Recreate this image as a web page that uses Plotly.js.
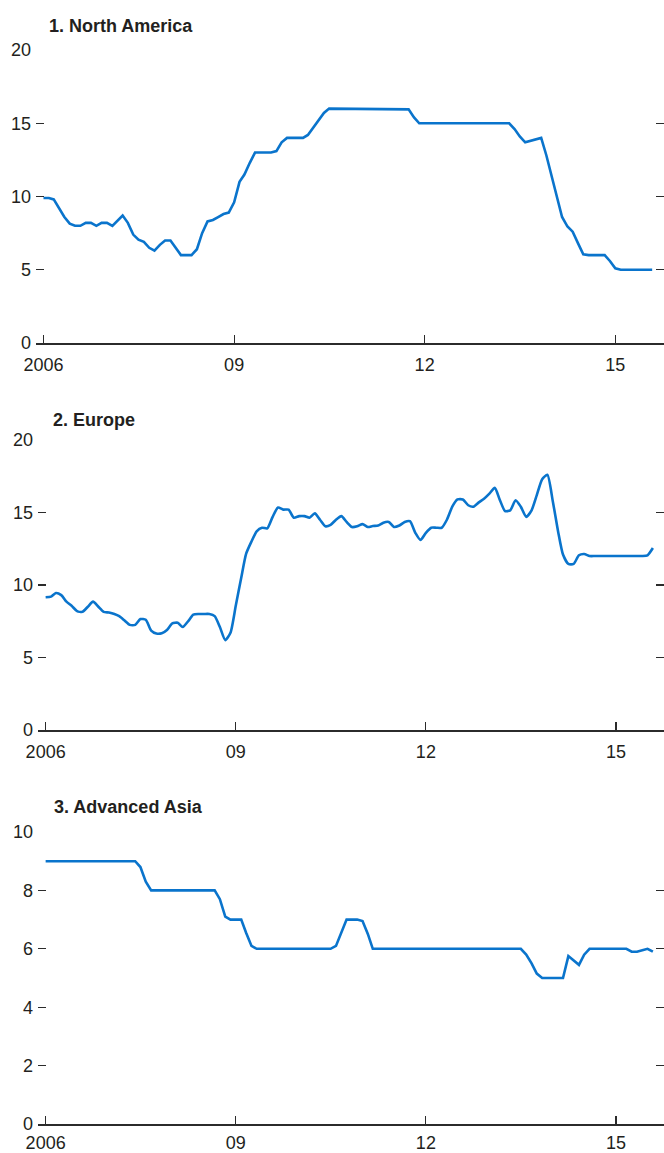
<!DOCTYPE html>
<html>
<head>
<meta charset="utf-8">
<script src="https://cdn.plot.ly/plotly-3.0.1.min.js"></script>
<style>html,body{margin:0;padding:0;background:#fff;}#chart{width:664px;height:1153px;}</style>
</head>
<body>
<div id="chart"></div>
<script>
// Monthly observations, January 2006 through August 2015
const startYear = 2006;
const nMonths = 116;

const panelTitles = ["1. North America", "2. Europe", "3. Advanced Asia"];
const tickVals = ["2006-01-01", "2009-01-01", "2012-01-01", "2015-01-01"];
const tickText = ["2006", "09", "12", "15"];

const northAmerica = [
  9.9, 9.9, 9.8, 9.2, 8.6, 8.15, 8.0, 8.0, 8.2, 8.2, 8.0, 8.2,
  8.2, 8.0, 8.3, 8.7, 8.2, 7.4, 7.05, 6.9, 6.5, 6.3, 6.7, 7.0,
  7.0, 6.5, 6.0, 6.0, 6.0, 6.4, 7.5, 8.3, 8.4, 8.6, 8.8, 8.9,
  9.6, 11.0, 11.5, 12.3, 13.0, 13.0, 13.0, 13.0, 13.1, 13.7, 14.0, 14.0,
  14.0, 14.0, 14.2, 14.7, 15.2, 15.7, 16.0, 16.0, 16.0, 16.0, 16.0, 16.0,
  16.0, 16.0, 16.0, 16.0, 16.0, 16.0, 16.0, 16.0, 16.0, 15.95, 15.4, 15.0,
  15.0, 15.0, 15.0, 15.0, 15.0, 15.0, 15.0, 15.0, 15.0, 15.0, 15.0, 15.0,
  15.0, 15.0, 15.0, 15.0, 15.0, 14.6, 14.1, 13.7, 13.8, 13.9, 14.0, 12.8,
  11.3, 9.9, 8.6, 7.95, 7.6, 6.8, 6.05, 6.0, 6.0, 6.0, 6.0, 5.6,
  5.1, 5.0, 5.0, 5.0, 5.0, 5.0, 5.0, 5.0
];

const europe = [
  9.15, 9.2, 9.45, 9.3, 8.85, 8.55, 8.2, 8.15, 8.5, 8.85, 8.5, 8.15,
  8.1, 8.0, 7.85, 7.55, 7.25, 7.25, 7.65, 7.6, 6.85, 6.65, 6.67, 6.9,
  7.35, 7.4, 7.1, 7.5, 7.95, 8.0, 8.0, 8.0, 7.85, 7.1, 6.2, 6.7,
  8.6, 10.5, 12.15, 13.0, 13.7, 13.95, 13.9, 14.7, 15.35, 15.2, 15.2, 14.64,
  14.75, 14.75, 14.64, 14.94, 14.5, 14.05, 14.15, 14.5, 14.75, 14.35, 14.0, 14.05,
  14.2, 14.0, 14.07, 14.1, 14.3, 14.35, 14.0, 14.1, 14.35, 14.4, 13.6, 13.1,
  13.6, 13.95, 13.95, 13.95, 14.5, 15.4, 15.9, 15.9, 15.5, 15.4, 15.7, 15.95,
  16.3, 16.7, 15.9, 15.1, 15.15, 15.85, 15.4, 14.7, 15.15, 16.2, 17.3, 17.6,
  15.8, 13.68, 12.1, 11.45, 11.45, 12.05, 12.14, 12.0, 12.0, 12.0, 12.0, 12.0,
  12.0, 12.0, 12.0, 12.0, 12.0, 12.0, 12.05, 12.55
];

const advancedAsia = [
  9.0, 9.0, 9.0, 9.0, 9.0, 9.0, 9.0, 9.0, 9.0, 9.0, 9.0, 9.0,
  9.0, 9.0, 9.0, 9.0, 9.0, 9.0, 8.8, 8.3, 8.0, 8.0, 8.0, 8.0,
  8.0, 8.0, 8.0, 8.0, 8.0, 8.0, 8.0, 8.0, 8.0, 7.7, 7.1, 7.0,
  7.0, 7.0, 6.55, 6.1, 6.0, 6.0, 6.0, 6.0, 6.0, 6.0, 6.0, 6.0,
  6.0, 6.0, 6.0, 6.0, 6.0, 6.0, 6.0, 6.1, 6.55, 7.0, 7.0, 7.0,
  6.95, 6.5, 6.0, 6.0, 6.0, 6.0, 6.0, 6.0, 6.0, 6.0, 6.0, 6.0,
  6.0, 6.0, 6.0, 6.0, 6.0, 6.0, 6.0, 6.0, 6.0, 6.0, 6.0, 6.0,
  6.0, 6.0, 6.0, 6.0, 6.0, 6.0, 6.0, 5.8, 5.5, 5.15, 5.0, 5.0,
  5.0, 5.0, 5.0, 5.75, 5.6, 5.45, 5.8, 6.0, 6.0, 6.0, 6.0, 6.0,
  6.0, 6.0, 6.0, 5.9, 5.9, 5.95, 6.0, 5.9
];

const yTicks1 = [0, 5, 10, 15, 20];
const yTicks2 = [0, 5, 10, 15, 20];
const yTicks3 = [0, 2, 4, 6, 8, 10];

const months = [];
for (let i = 0; i < nMonths; i++) {
  const y = startYear + Math.floor(i / 12);
  const m = (i % 12) + 1;
  months.push(y + "-" + String(m).padStart(2, "0") + "-01");
}

const W = 664, H = 1153;
const lineColor = "#0a74cc";
const axisColor = "#2b2b2b";
const fam = "Liberation Sans, Arial, sans-serif";
const tickFont = {family: fam, size: 18, color: "#231f20"};
const titleFont = {family: fam, size: 18, color: "#231f20", weight: "bold"};

function px2x(p) { return p / W; }
function py2y(p) { return 1 - p / H; }

function mkTrace(vals, xa, ya, shape) {
  return {x: months, y: vals, xaxis: xa, yaxis: ya, type: "scatter", mode: "lines",
          line: {color: lineColor, width: 2.6, shape: shape, smoothing: 0.6},
          hoverinfo: "skip", showlegend: false};
}

function xAxis(left, range, anchor, standoff) {
  return {domain: [px2x(left), 1], type: "date", range: range, anchor: anchor,
          tickmode: "array", tickvals: tickVals, ticktext: tickText,
          ticks: "inside", ticklen: 8, tickwidth: 1.2, tickcolor: axisColor,
          ticklabelstandoff: standoff,
          showline: true, linecolor: axisColor, linewidth: 1.6,
          showgrid: false, zeroline: false, tickfont: tickFont, automargin: false,
          fixedrange: true};
}
function yAxis(top, bottom, range, ticks, anchor) {
  return {domain: [py2y(bottom), py2y(top)], range: range, anchor: anchor,
          tickmode: "array", tickvals: ticks,
          ticks: "inside", ticklen: 8, tickwidth: 1.2, tickcolor: axisColor,
          ticklabelstandoff: 4,
          mirror: "ticks", showline: false, showgrid: false, zeroline: false,
          tickfont: tickFont, automargin: false, fixedrange: true};
}

const data = [
  mkTrace(northAmerica, "x", "y", "linear"),
  mkTrace(europe, "x2", "y2", "spline"),
  mkTrace(advancedAsia, "x3", "y3", "linear")
];

const layout = {
  width: W, height: H,
  margin: {l: 0, r: 0, t: 0, b: 0, pad: 0},
  paper_bgcolor: "#fff", plot_bgcolor: "#fff",
  showlegend: false,
  xaxis: xAxis(36, ["2005-11-19", "2015-10-08"], "y", 5),
  yaxis: yAxis(50, 343, [0, 20], yTicks1, "x"),
  xaxis2: xAxis(38, ["2005-11-18", "2015-10-04"], "y2", 5),
  yaxis2: yAxis(440, 730, [0, 20], yTicks2, "x2"),
  xaxis3: xAxis(38, ["2005-11-18", "2015-10-04"], "y3", 2),
  yaxis3: yAxis(832, 1124, [0, 10], yTicks3, "x3"),
  annotations: [
    {text: panelTitles[0], xref: "paper", yref: "paper", x: px2x(47), y: py2y(26), xanchor: "left", yanchor: "middle", showarrow: false, font: titleFont},
    {text: panelTitles[1], xref: "paper", yref: "paper", x: px2x(51), y: py2y(419.5), xanchor: "left", yanchor: "middle", showarrow: false, font: titleFont},
    {text: panelTitles[2], xref: "paper", yref: "paper", x: px2x(52), y: py2y(806.5), xanchor: "left", yanchor: "middle", showarrow: false, font: titleFont}
  ]
};

Plotly.newPlot("chart", data, layout, {displayModeBar: false, staticPlot: true});
</script>
</body>
</html>
